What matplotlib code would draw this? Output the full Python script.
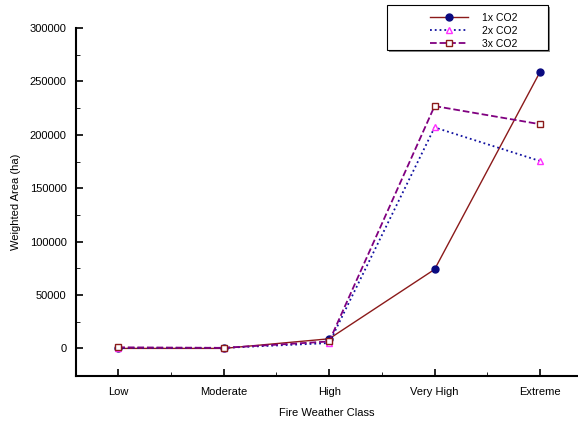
import matplotlib
matplotlib.use("Agg")
import matplotlib.pyplot as plt
from matplotlib.patches import Rectangle
from matplotlib.ticker import MultipleLocator
import numpy as np

plt.rcParams['font.family'] = ['Liberation Sans', 'DejaVu Sans']

classes = ["Low", "Moderate", "High", "Very High", "Extreme"]
co2_1x = [0, 0, 9000, 74000, 259000]
co2_2x = [500, 500, 5000, 207000, 175500]
co2_3x = [1000, 500, 6500, 227000, 210000]

fig = plt.figure(figsize=(5.78, 4.26), dpi=100)
ax = fig.add_axes([0.132, 0.117, 0.868, 0.817])
x = np.arange(len(classes))

ax.plot(x, co2_1x, color="#8b1a1a", lw=1.0, marker="o", ms=5,
        mfc="#0a0a80", mec="#0a0a80", label="1x CO2")
ax.plot(x, co2_2x, color="#1010a0", lw=1.3, ls=":", marker="^", ms=5,
        mfc="white", mec="#ff30ff", label="2x CO2")
ax.plot(x, co2_3x, color="#800080", lw=1.3, ls="--", marker="s", ms=5,
        mfc="white", mec="#8b1a1a", label="3x CO2")

ax.set_xlim(-0.398, 4.36)
ax.set_ylim(-26000, 300000)
ax.set_xticks(x)
ax.set_xticklabels(classes)
ax.xaxis.set_minor_locator(MultipleLocator(0.5))
ax.yaxis.set_major_locator(MultipleLocator(50000))
ax.yaxis.set_minor_locator(MultipleLocator(25000))
ax.tick_params(which="both", direction="in", labelsize=8)
ax.tick_params(which="major", length=5, width=1.2)
ax.tick_params(which="minor", length=3, width=0.6)
ax.tick_params(axis="x", pad=8)
ax.tick_params(axis="y", pad=7)
ax.spines["top"].set_visible(False)
ax.spines["right"].set_visible(False)
ax.spines["left"].set_linewidth(1.5)
ax.spines["bottom"].set_linewidth(1.5)

ax.set_xlabel("Fire Weather Class", fontsize=8, labelpad=8)
ax.set_ylabel("Weighted Area (ha)", fontsize=8, labelpad=6)

# legend box with drop shadow
fig.patches.append(Rectangle((0.6730, 0.8779), 0.2785, 0.1056, transform=fig.transFigure,
                             facecolor="#888888", edgecolor="none", zorder=1))
fig.patches.append(Rectangle((0.6696, 0.8826), 0.2785, 0.1056, transform=fig.transFigure,
                             facecolor="white", edgecolor="black", lw=0.8, zorder=2))
leg = fig.legend(loc="upper left", bbox_to_anchor=(0.7353, 0.982), fontsize=7.5,
                 frameon=False, borderpad=0, handlelength=3.65, handletextpad=1.3,
                 labelspacing=0.3)
leg.set_zorder(3)

fig.savefig("out.png", dpi=100)
